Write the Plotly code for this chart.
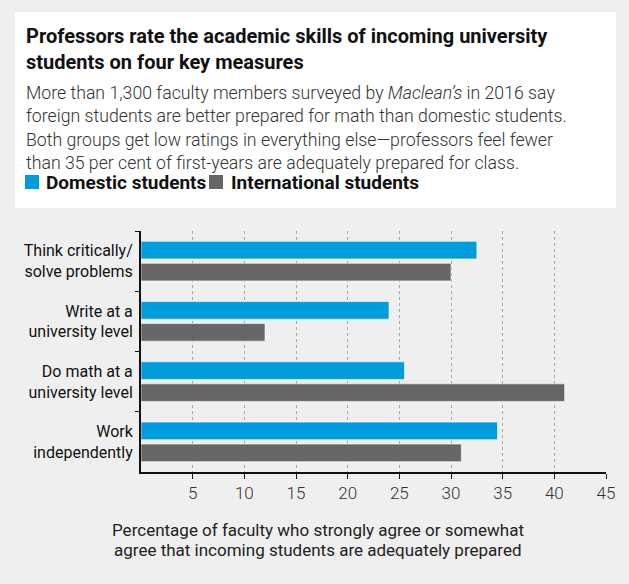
import plotly.graph_objects as go

# region Data
categories = [
    "Think critically/<br>solve problems",
    "Write at a<br>university level",
    "Do math at a<br>university level",
    "Work<br>independently",
]
domestic = [32.5, 24.0, 25.5, 34.5]
international = [30.0, 12.0, 41.0, 31.0]
series_names = ["Domestic students", "International students"]
x_ticks = [5, 10, 15, 20, 25, 30, 35, 40, 45]

title_lines = [
    "Professors rate the academic skills of incoming university",
    "students on four key measures",
]
body_lines = [
    "More than 1,300 faculty members surveyed by <i>Maclean’s</i> in 2016 say",
    "foreign students are better prepared for math than domestic students.",
    "Both groups get low ratings in everything else—professors feel fewer",
    "than 35 per cent of first-years are adequately prepared for class.",
]
axis_title_lines = [
    "Percentage of faculty who strongly agree or somewhat",
    "agree that incoming students are adequately prepared",
]
# endregion

BLUE = "#009ddc"
GRAY = "#666666"
BG = "#efefef"
FONT = "Roboto, Lato, sans-serif"
COLORS = [BLUE, GRAY]

W, H = 629, 584
L, R, T, B = 141, 606, 231, 472  # plot area in pixels


def px_x(px):
    return (px - L) / (R - L)


def px_y(py):
    return (B - py) / (B - T)


def add_text(fig, text, x, y, size, color, weight="normal", xanchor="left"):
    fig.add_annotation(
        xref="paper", yref="paper", x=px_x(x), y=px_y(y),
        xanchor=xanchor, yanchor="middle", showarrow=False, text=text,
        font=dict(family=FONT, size=size, color=color, weight=weight),
    )


fig = go.Figure()

for name, vals, col in zip(series_names, [domestic, international], COLORS):
    fig.add_trace(go.Bar(
        y=categories, x=vals, orientation="h", name=name,
        marker=dict(color=col, line=dict(color="rgba(255,255,255,0.6)", width=1)),
    ))

# white header box
fig.add_shape(
    type="rect", xref="paper", yref="paper",
    x0=px_x(15), x1=px_x(616), y0=px_y(208), y1=px_y(12),
    fillcolor="white", line=dict(width=0), layer="below",
)

# title + subtitle
for i, line in enumerate(title_lines):
    add_text(fig, line, 24, 36 + 25.5 * i, 20, "#111111", weight="bold")
for i, line in enumerate(body_lines):
    add_text(fig, line, 24, 92.5 + 23.5 * i, 17.7, "#333333", weight=300)

# legend (drawn by hand to match the tight spacing)
legend_pos = [(25, 45), (209, 230)]
for name, col, (sx, tx) in zip(series_names, COLORS, legend_pos):
    fig.add_shape(
        type="rect", xref="paper", yref="paper",
        x0=px_x(sx), x1=px_x(sx + 14), y0=px_y(189), y1=px_y(175),
        fillcolor=col, line=dict(width=0),
    )
    add_text(fig, name, tx - 1, 182, 19, "#111111", weight="bold")

# x axis title
for i, line in enumerate(axis_title_lines):
    add_text(fig, line, 318, 530 + 19.5 * i, 17, "#222222", xanchor="center")

fig.update_layout(
    width=W, height=H,
    margin=dict(l=L, r=W - R, t=T, b=H - B, pad=0),
    paper_bgcolor=BG, plot_bgcolor=BG,
    barmode="group", bargap=0.27, bargroupgap=0.2,
    showlegend=False,
    xaxis=dict(
        range=[0, 45], tickvals=x_ticks, ticks="outside", ticklen=5,
        tickcolor="#111111", showline=True, linecolor="#111111", linewidth=2,
        showgrid=True, gridcolor="#aaaaaa", griddash="dot", gridwidth=1,
        zeroline=False, tickfont=dict(family=FONT, size=17, color="#333333", weight=300),
    ),
    yaxis=dict(
        autorange="reversed", tickson="boundaries", ticks="outside", ticklen=4,
        tickcolor="#111111", showline=True, linecolor="#111111", linewidth=2,
        showgrid=False, zeroline=False, ticklabelstandoff=3,
        tickfont=dict(family=FONT, size=16, color="#111111"),
    ),
)

fig.write_html(
    "out.html",
    config={"displayModeBar": False},
    post_script="document.body.style.margin='0';",
)
